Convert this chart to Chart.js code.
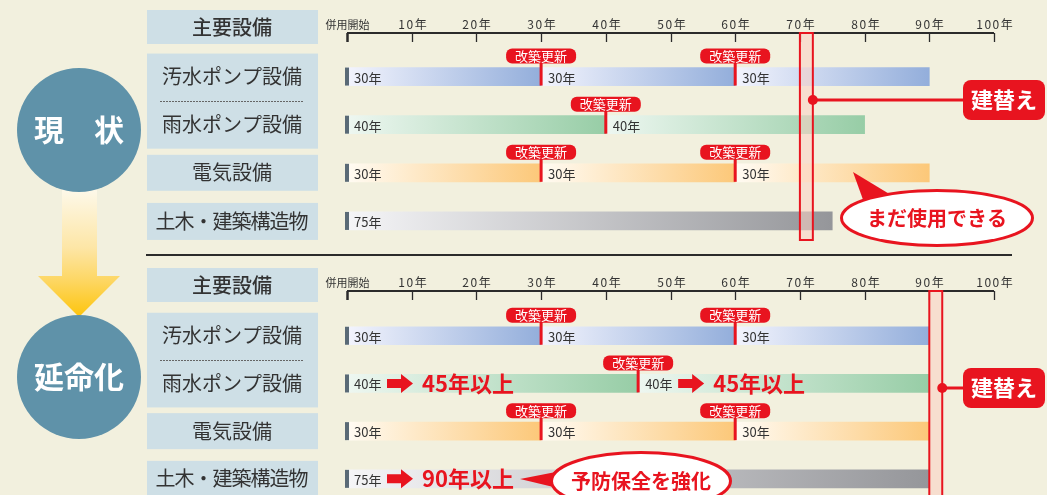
<!DOCTYPE html>
<html lang="ja">
<head>
<meta charset="utf-8">
<title>現状と延命化</title>
<script src="https://cdn.jsdelivr.net/npm/chart.js@4.4.1/dist/chart.umd.min.js"></script>
<style>
  html, body { margin: 0; padding: 0; }
  body { width: 1047px; height: 495px; overflow: hidden; position: relative; background: #f2f0de; }
  canvas { position: absolute; left: 0; top: 0; }
</style>
</head>
<body>
<canvas id="nowChart" width="1047" height="510"></canvas>
<canvas id="lifeChart" width="1047" height="510"></canvas>
<script>
// axis
const yearTicks = [0, 10, 20, 30, 40, 50, 60, 70, 80, 90, 100];
const tickLabels = ['併用開始', '10年', '20年', '30年', '40年', '50年', '60年', '70年', '80年', '90年', '100年'];
const rowLabels = ['汚水ポンプ設備', '雨水ポンプ設備', '電気設備', '土木・建築構造物'];

// 現状 (years from start of use)
const nowSewage = [[0, 30], [30, 60], [60, 90]];
const nowRain = [[0, 40], [40, 80]];
const nowElec = [[0, 30], [30, 60], [60, 90]];
const nowCivil = [[0, 75]];
const nowTexts = [['30年', '30年', '30年'], ['40年', '40年'], ['30年', '30年', '30年'], ['75年']];
const nowReplace = 70;

// 延命化
const lifeSewage = [[0, 30], [30, 60], [60, 90]];
const lifeRain = [[0, 45], [45, 90]];
const lifeElec = [[0, 30], [30, 60], [60, 90]];
const lifeCivil = [[0, 90]];
const lifeTexts = [['30年', '30年', '30年'], ['40年', '40年'], ['30年', '30年', '30年'], ['75年']];
const lifeExt = ['', '45年以上', '', '90年以上'];
const lifeReplace = 90;

const rowColors = ['#93aedb', '#97cda6', '#fcc879', '#95969a'];
const rowLights = ['#f3f4fd', '#eef7f1', '#fffbf3', '#f5f5f7'];
const RED = '#e8141f';
const INK = '#333333';
const JP = '"Noto Sans CJK JP", "Noto Sans", sans-serif';

function rrect(ctx, x, y, w, h, r) {
  ctx.beginPath();
  ctx.moveTo(x + r, y);
  ctx.arcTo(x + w, y, x + w, y + h, r);
  ctx.arcTo(x + w, y + h, x, y + h, r);
  ctx.arcTo(x, y + h, x, y, r);
  ctx.arcTo(x, y, x + w, y, r);
  ctx.closePath();
}

function label(ctx, s, x, y, size, color, weight = 'normal', align = 'center', spacing = 0) {
  ctx.font = `${weight} ${size}px ${JP}`;
  ctx.fillStyle = color;
  ctx.textAlign = align;
  ctx.textBaseline = 'middle';
  ctx.letterSpacing = spacing + 'px';
  ctx.fillText(s, x + (align === 'center' ? spacing / 2 : 0), y);
  ctx.letterSpacing = '0px';
}

function bubble(ctx, cx, cy, rx, ry, tip, base, s) {
  ctx.fillStyle = RED;
  ctx.beginPath();
  ctx.moveTo(base[0][0], base[0][1]);
  ctx.lineTo(tip[0], tip[1]);
  ctx.lineTo(base[1][0], base[1][1]);
  ctx.closePath();
  ctx.fill();
  ctx.strokeStyle = RED;
  ctx.lineWidth = 6;
  ctx.beginPath();
  ctx.ellipse(cx, cy, rx, ry, 0, 0, Math.PI * 2);
  ctx.stroke();
  ctx.fillStyle = '#ffffff';
  ctx.fill();
  label(ctx, s, cx, cy, 20, RED, 'bold');
}

function sectionPlugin(sec) {
  return {
    id: 'section_' + sec.id,
    beforeDatasetsDraw(chart) {
      const { ctx, scales: { x, y } } = chart;
      const rowY = i => y.getPixelForValue(i);
      ctx.save();

      if (sec.separatorY) {
        ctx.strokeStyle = '#2b2b2b';
        ctx.lineWidth = 2;
        ctx.beginPath();
        ctx.moveTo(146, sec.separatorY);
        ctx.lineTo(1012, sec.separatorY);
        ctx.stroke();
      }

      // arrow from 現状 to 延命化
      if (sec.arrow) {
        const g = ctx.createLinearGradient(0, 191, 0, 317);
        g.addColorStop(0, '#fdf8e8');
        g.addColorStop(0.45, '#fde6a6');
        g.addColorStop(0.7, '#fdd766');
        g.addColorStop(1, '#fdc40c');
        ctx.fillStyle = g;
        ctx.beginPath();
        ctx.moveTo(62, 185);
        ctx.lineTo(97, 185);
        ctx.lineTo(97, 276);
        ctx.lineTo(120, 276);
        ctx.lineTo(79, 317);
        ctx.lineTo(38, 276);
        ctx.lineTo(62, 276);
        ctx.closePath();
        ctx.fill();
      }

      // circle
      ctx.fillStyle = '#5f92a9';
      ctx.beginPath();
      ctx.arc(79, sec.circleY, 62, 0, Math.PI * 2);
      ctx.fill();
      label(ctx, sec.circleText, 79, sec.circleY, 30, '#ffffff', 'bold');

      // row boxes
      ctx.fillStyle = '#cedfe6';
      ctx.fillRect(147, sec.axisY - 23, 171, 34);
      ctx.fillRect(147, rowY(0) - 23, 171, rowY(1) - rowY(0) + 47);
      ctx.fillRect(147, rowY(2) - 18, 171, 36);
      ctx.fillRect(147, rowY(3) - 18, 171, 37);
      const mid = Math.round((rowY(0) + rowY(1)) / 2) + 0.5;
      ctx.strokeStyle = '#666';
      ctx.lineWidth = 1;
      ctx.setLineDash([2, 1]);
      ctx.beginPath();
      ctx.moveTo(160, mid);
      ctx.lineTo(304, mid);
      ctx.stroke();
      ctx.setLineDash([]);
      label(ctx, '主要設備', 232, sec.axisY - 6, 20, INK, '500');
      rowLabels.forEach((l, i) => label(ctx, l, 232, rowY(i), 20, INK, 'normal', 'center', i === 3 ? -1 : 0));

      // year axis
      ctx.strokeStyle = '#2b2b2b';
      ctx.lineWidth = 2;
      ctx.beginPath();
      ctx.moveTo(x.getPixelForValue(0), sec.axisY);
      ctx.lineTo(x.getPixelForValue(100), sec.axisY);
      ctx.stroke();
      yearTicks.forEach((v, i) => {
        const px = Math.round(x.getPixelForValue(v)) + 0.5;
        ctx.strokeStyle = '#2b2b2b';
        ctx.lineWidth = i === 0 ? 2.5 : 1.3;
        ctx.beginPath();
        ctx.moveTo(px, sec.axisY);
        ctx.lineTo(px, sec.axisY + 9);
        ctx.stroke();
        if (i === 0) label(ctx, tickLabels[i], px, sec.axisY - 8, 11, INK);
        else label(ctx, tickLabels[i], px, sec.axisY - 9, 12, INK, 'normal', 'center', 1.5);
      });
      ctx.restore();
    },
    afterDatasetsDraw(chart) {
      const { ctx, scales: { x, y } } = chart;
      ctx.save();
      sec.rows.forEach((segs, i) => {
        const cy = y.getPixelForValue(i);
        ctx.fillStyle = '#5a6a76';
        ctx.fillRect(x.getPixelForValue(0) - 2, cy - 9, 4, 18);
        segs.forEach((s, k) => {
          const sx = x.getPixelForValue(s[0]);
          label(ctx, sec.texts[i][k], sx + 7, cy + 1, 13, INK, 'normal', 'left');
          if (k > 0) {
            ctx.fillStyle = RED;
            ctx.fillRect(sx - 1.5, cy - 14, 3, 23);
            rrect(ctx, sx - 35, cy - 28, 70, 15, 6);
            ctx.fill();
            label(ctx, '改築更新', sx, cy - 20.5, 13, '#ffffff');
          }
          if (sec.ext && sec.ext[i]) {
            const ax = sx + 40;
            ctx.fillStyle = RED;
            ctx.beginPath();
            ctx.moveTo(ax, cy - 4.5);
            ctx.lineTo(ax + 14, cy - 4.5);
            ctx.lineTo(ax + 14, cy - 9.5);
            ctx.lineTo(ax + 26, cy);
            ctx.lineTo(ax + 14, cy + 9.5);
            ctx.lineTo(ax + 14, cy + 4.5);
            ctx.lineTo(ax, cy + 4.5);
            ctx.closePath();
            ctx.fill();
            label(ctx, sec.ext[i], sx + 75, cy, 22, RED, 'bold', 'left');
          }
        });
      });

      // replacement band
      const bx0 = x.getPixelForValue(sec.replace);
      const bx1 = x.getPixelForValue(sec.replace + 2);
      ctx.fillStyle = 'rgba(252, 208, 194, 0.55)';
      ctx.fillRect(bx0, sec.axisY, bx1 - bx0, sec.bandBottom - sec.axisY);
      ctx.strokeStyle = RED;
      ctx.lineWidth = 2;
      ctx.strokeRect(bx0, sec.axisY, bx1 - bx0, sec.bandBottom - sec.axisY);
      ctx.fillStyle = RED;
      ctx.fillRect(bx1, sec.calloutY - 1.5, 963 - bx1, 3);
      ctx.beginPath();
      ctx.arc(bx1, sec.calloutY, 5, 0, Math.PI * 2);
      ctx.fill();
      rrect(ctx, 963, sec.calloutY - 20, 82, 40, 8);
      ctx.fill();
      label(ctx, '建替え', 1004, sec.calloutY, 22, '#ffffff', 'bold');

      const b = sec.bubble;
      bubble(ctx, b.cx, b.cy, b.rx, b.ry, b.tip, b.base, b.text);
      ctx.restore();
    }
  };
}

function makeChart(id, sec, padding) {
  const maxSegs = Math.max(...sec.rows.map(r => r.length));
  const datasets = [];
  for (let k = 0; k < maxSegs; k++) {
    datasets.push({
      label: 'seg' + k,
      data: sec.rows.map(r => r[k] || null),
      grouped: false,
      barThickness: 18,
      borderWidth: 0,
      borderSkipped: false,
      backgroundColor: (c) => {
        const chart = c.chart;
        const v = c.raw;
        if (!chart.chartArea || !v) return rowColors[c.dataIndex];
        const xs = chart.scales.x;
        const g = chart.ctx.createLinearGradient(xs.getPixelForValue(v[0]), 0, xs.getPixelForValue(v[1]), 0);
        g.addColorStop(0, rowLights[c.dataIndex]);
        g.addColorStop(1, rowColors[c.dataIndex]);
        return g;
      }
    });
  }
  return new Chart(document.getElementById(id), {
    type: 'bar',
    data: { labels: rowLabels, datasets },
    options: {
      indexAxis: 'y',
      responsive: false,
      animation: false,
      events: [],
      layout: { padding },
      plugins: { legend: { display: false }, tooltip: { enabled: false } },
      scales: {
        x: { type: 'linear', min: 0, max: 100, display: false },
        y: { type: 'category', display: false, offset: true }
      }
    },
    plugins: [sectionPlugin(sec)]
  });
}

makeChart('nowChart', {
  id: 'now',
  rows: [nowSewage, nowRain, nowElec, nowCivil],
  texts: nowTexts,
  replace: nowReplace,
  axisY: 33,
  bandBottom: 240,
  calloutY: 100,
  circleY: 130,
  circleText: '現　状',
  arrow: true,
  bubble: { cx: 937, cy: 218, rx: 94, ry: 26, tip: [853, 172], base: [[866, 208], [896, 198]], text: 'まだ使用できる' }
}, { left: 347, right: 53, top: 52.5, bottom: 265 });

makeChart('lifeChart', {
  id: 'life',
  rows: [lifeSewage, lifeRain, lifeElec, lifeCivil],
  texts: lifeTexts,
  ext: lifeExt,
  replace: lifeReplace,
  axisY: 291,
  bandBottom: 520,
  calloutY: 388,
  circleY: 377,
  circleText: '延命化',
  separatorY: 255,
  bubble: { cx: 641, cy: 481, rx: 88, ry: 27, tip: [520, 479], base: [[566, 470], [566, 490]], text: '予防保全を強化' }
}, { left: 347, right: 53, top: 311.9, bottom: 7.3 });
</script>
</body>
</html>
